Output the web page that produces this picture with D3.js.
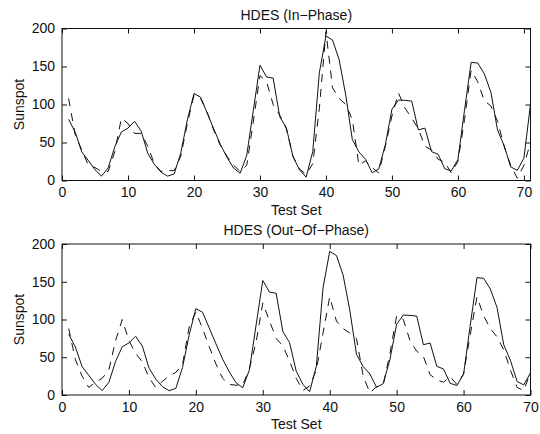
<!DOCTYPE html>
<html>
<head>
<meta charset="utf-8">
<script src="https://cdn.jsdelivr.net/npm/d3@7/dist/d3.min.js"></script>
<style>
  html, body { margin: 0; padding: 0; background: #fff; }
  svg { display: block; font-family: "Liberation Sans", Arial, Helvetica, sans-serif; }
</style>
</head>
<body>
<svg id="chart" width="540" height="434"></svg>
<script>
// Actual sunspot numbers (solid line), test set index 1..71
const actual = [80.6, 63.6, 37.6, 26.1, 14.2, 5.8, 16.7, 44.3, 63.9, 69.0,
  77.8, 64.9, 35.7, 21.2, 11.1, 5.7, 8.7, 36.1, 79.7, 114.4,
  109.6, 88.8, 67.8, 47.5, 30.6, 16.3, 9.6, 33.2, 92.6, 151.6,
  136.3, 134.7, 83.9, 69.4, 31.5, 13.9, 4.4, 38.0, 141.7, 190.2,
  184.8, 159.0, 112.3, 53.9, 37.6, 27.9, 10.2, 15.1, 47.0, 93.8,
  105.9, 105.5, 104.5, 66.6, 68.9, 38.0, 34.5, 15.5, 12.6, 27.5,
  92.5, 155.4, 154.6, 140.4, 115.9, 66.6, 45.9, 17.9, 13.4, 29.4, 100.2];

// HDES In-Phase prediction (dashed), index 1..71
const inPhase = [108, 60, 40, 20, 17, 12, 12, 38, 82, 75,
  62, 62, 45, 22, 12, 13, 13, 32, 75, 112,
  108, 90, 66, 46, 32, 20, 12, 20, 78, 138,
  130, 100, 86, 68, 32, 15, 8, 22, 95, 196,
  122, 108, 100, 80, 20, 26, 17, 10, 45, 85,
  115, 95, 82, 68, 45, 40, 28, 24, 10, 25,
  80, 145, 130, 105, 98, 78, 45, 20, 3, 20, 50];

// HDES Out-Of-Phase prediction (dashed), index 1..70
const outPhase = [88, 47, 25, 10, 17, 22, 33, 72, 100, 72,
  55, 44, 23, 10, 18, 25, 30, 40, 90, 110,
  88, 64, 41, 22, 14, 13, 13, 35, 70, 122,
  98, 75, 65, 45, 22, 6, 12, 33, 82, 130,
  98, 88, 82, 75, 25, 3, 11, 14, 55, 105,
  100, 72, 58, 51, 27, 20, 17, 24, 14, 28,
  80, 130, 105, 88, 77, 60, 33, 10, 6, 30];

const yTicks = [0, 50, 100, 150, 200];
const xTicks = [0, 10, 20, 30, 40, 50, 60, 70];

const panels = [
  { title: "HDES (In\u2212Phase)", pred: inPhase, xMax: 71, top: 28.5, bottom: 180.5 },
  { title: "HDES (Out\u2212Of\u2212Phase)", pred: outPhase, xMax: 70, top: 244, bottom: 395 }
];

const svg = d3.select("#chart");
const left = 62, right = 530.5;
const fs = 14;
const tickLen = 5;

panels.forEach((p, pi) => {
  const x = d3.scaleLinear().domain([0, p.xMax]).range([left, right]);
  const y = d3.scaleLinear().domain([0, 200]).range([p.bottom, p.top]);
  const g = svg.append("g");

  const clipId = "clip" + pi;
  svg.append("clipPath").attr("id", clipId)
    .append("rect").attr("x", left).attr("y", p.top)
    .attr("width", right - left).attr("height", p.bottom - p.top);

  const line = d3.line().x((d, i) => x(i + 1)).y(d => y(d));

  g.append("path").datum(actual)
    .attr("clip-path", `url(#${clipId})`)
    .attr("d", line).attr("fill", "none")
    .attr("stroke", "#111").attr("stroke-width", 1);

  g.append("path").datum(p.pred)
    .attr("clip-path", `url(#${clipId})`)
    .attr("d", line).attr("fill", "none")
    .attr("stroke", "#111").attr("stroke-width", 1)
    .attr("stroke-dasharray", "8,7");

  // axes with inward ticks
  const axB = d3.axisBottom(x).tickValues(xTicks).tickSize(-tickLen).tickPadding(7).tickFormat(d3.format("d"));
  const axT = d3.axisTop(x).tickValues(xTicks).tickSize(-tickLen).tickFormat("");
  const axL = d3.axisLeft(y).tickValues(yTicks).tickSize(-tickLen).tickPadding(7).tickFormat(d3.format("d"));
  const axR = d3.axisRight(y).tickValues(yTicks).tickSize(-tickLen).tickFormat("");

  const gb = g.append("g").attr("transform", `translate(0,${p.bottom})`).call(axB);
  const gt = g.append("g").attr("transform", `translate(0,${p.top})`).call(axT);
  const gl = g.append("g").attr("transform", `translate(${left},0)`).call(axL);
  const gr = g.append("g").attr("transform", `translate(${right},0)`).call(axR);

  [gb, gt, gl, gr].forEach(a => {
    a.select(".domain").remove();
    a.selectAll("line").attr("stroke", "#111").attr("stroke-width", 1);
    a.selectAll("text").attr("font-size", fs).attr("fill", "#111")
      .attr("font-family", "'Liberation Sans', Arial, sans-serif");
  });

  g.append("rect").attr("x", left).attr("y", p.top)
    .attr("width", right - left).attr("height", p.bottom - p.top)
    .attr("fill", "none").attr("stroke", "#111").attr("stroke-width", 1);

  g.append("text").attr("x", (left + right) / 2).attr("y", p.top - 9)
    .attr("text-anchor", "middle").attr("font-size", fs).attr("fill", "#111")
    .text(p.title);

  g.append("text").attr("x", (left + right) / 2).attr("y", p.bottom + 34)
    .attr("text-anchor", "middle").attr("font-size", fs).attr("fill", "#111")
    .text("Test Set");

  g.append("text")
    .attr("transform", `translate(24,${(p.top + p.bottom) / 2}) rotate(-90)`)
    .attr("text-anchor", "middle").attr("font-size", fs).attr("fill", "#111")
    .text("Sunspot");
});
</script>
</body>
</html>
